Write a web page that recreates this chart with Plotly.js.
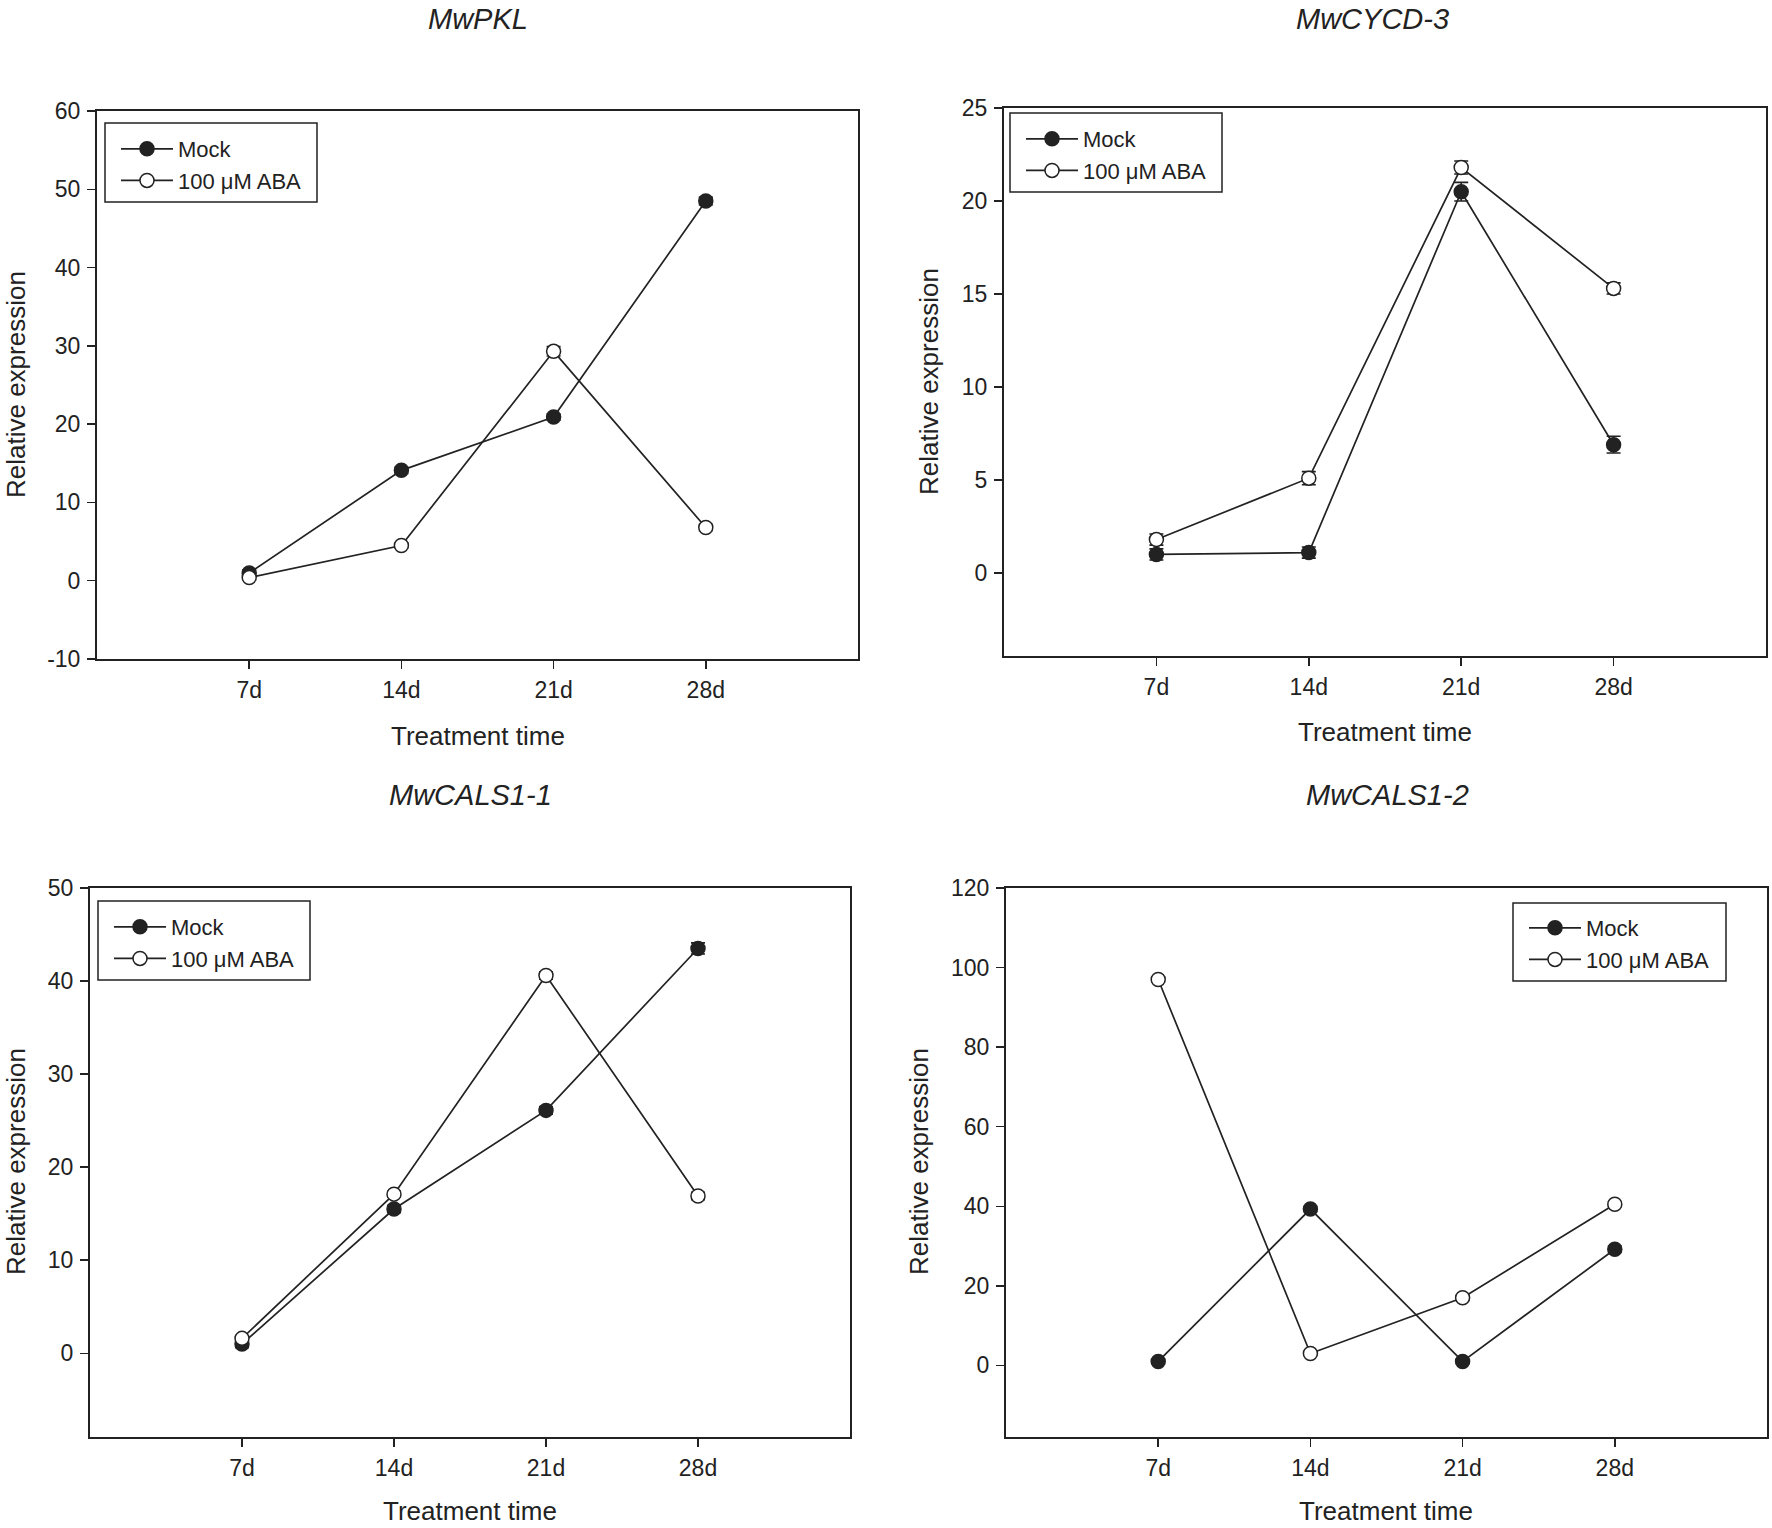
<!DOCTYPE html>
<html>
<head>
<meta charset="utf-8">
<script src="https://cdn.plot.ly/plotly-3.0.1.min.js"></script>
<style>
  html, body { margin: 0; padding: 0; background: #fff; }
  #chart { width: 1772px; height: 1528px; }
</style>
</head>
<body>
<div id="chart"></div>
<script>
// values
const days = ['7d', '14d', '21d', '28d'];
const seriesNames = ['Mock', '100 μM ABA'];
const genes = ['MwPKL', 'MwCYCD-3', 'MwCALS1-1', 'MwCALS1-2'];

const pklMock = [1.0, 14.1, 20.9, 48.5];
const pklMockErr = [0.4, 0.4, 0.4, 0.5];
const pklAba = [0.4, 4.5, 29.3, 6.8];
const pklAbaErr = [0.3, 0.3, 0.6, 0.4];

const cycdMock = [1.0, 1.1, 20.5, 6.9];
const cycdMockErr = [0.3, 0.3, 0.5, 0.45];
const cycdAba = [1.8, 5.1, 21.8, 15.3];
const cycdAbaErr = [0.3, 0.35, 0.35, 0.3];

const cals1Mock = [1.0, 15.5, 26.1, 43.5];
const cals1MockErr = [0.4, 0.4, 0.4, 0.6];
const cals1Aba = [1.6, 17.1, 40.6, 16.9];
const cals1AbaErr = [0.3, 0.3, 0.4, 0.4];

const cals2Mock = [1.0, 39.3, 1.0, 29.2];
const cals2MockErr = [0.6, 0.6, 0.6, 0.8];
const cals2Aba = [97.0, 3.0, 17.0, 40.5];
const cals2AbaErr = [0.6, 0.5, 0.6, 0.6];

// y tick values per panel (labels printed with a plain hyphen like the original)
const pklTicks = [-10, 0, 10, 20, 30, 40, 50, 60];
const cycdTicks = [0, 5, 10, 15, 20, 25];
const cals1Ticks = [0, 10, 20, 30, 40, 50];
const cals2Ticks = [0, 20, 40, 60, 80, 100, 120];

const W = 1772, H = 1528;
const FONT = 'Liberation Sans, Arial, sans-serif';
const INK = '#222';

// pixel -> paper helpers
function px(x) { return x / W; }
function py(y) { return 1 - y / H; }

// panel boxes in pixels (left, right, top, bottom) and styling
var panels = [
    { mock: pklMock, mockErr: pklMockErr, aba: pklAba, abaErr: pklAbaErr, ticks: pklTicks,
      box: [97, 858, 111, 659], yrange: [-10, 60],
      title: [478, 19], xtitle: [478, 736], ytitle: [16, 385],
      legend: [105, 317, 123, 202], legendAt: [116, 128] },
    { mock: cycdMock, mockErr: cycdMockErr, aba: cycdAba, abaErr: cycdAbaErr, ticks: cycdTicks,
      box: [1004, 1766, 108, 656], yrange: [-4.46, 25],
      title: [1372, 19], xtitle: [1385, 732], ytitle: [929, 382],
      legend: [1010, 1222, 113, 192], legendAt: [1021, 118] },
    { mock: cals1Mock, mockErr: cals1MockErr, aba: cals1Aba, abaErr: cals1AbaErr, ticks: cals1Ticks,
      box: [90, 850, 888, 1437], yrange: [-9, 50],
      title: [470, 795], xtitle: [470, 1511], ytitle: [16, 1162],
      legend: [98, 310, 901, 980], legendAt: [109, 906] },
    { mock: cals2Mock, mockErr: cals2MockErr, aba: cals2Aba, abaErr: cals2AbaErr, ticks: cals2Ticks,
      box: [1006, 1767, 888, 1437], yrange: [-18, 120],
      title: [1387, 795], xtitle: [1386, 1511], ytitle: [919, 1162],
      legend: [1513, 1726, 903, 981], legendAt: [1524, 907] }
];

var data = [];
var layout = {
    width: W, height: H,
    margin: { l: 0, r: 0, t: 0, b: 0 },
    paper_bgcolor: '#fff',
    plot_bgcolor: '#fff',
    font: { family: FONT, color: INK, size: 22 },
    showlegend: true,
    annotations: [],
    shapes: []
};

panels.forEach(function (p, i) {
    var n = i === 0 ? '' : String(i + 1);
    var xa = 'x' + n, ya = 'y' + n;
    var lg = 'legend' + n;

    function trace(name, y, err, fill) {
        return {
            x: days, y: y, name: name,
            xaxis: xa, yaxis: ya, legend: lg,
            type: 'scatter', mode: 'lines+markers',
            line: { color: INK, width: 1.7 },
            marker: { symbol: 'circle', size: 14, color: fill, line: { color: INK, width: 1.5 } },
            error_y: { type: 'data', array: err, visible: true, color: INK, thickness: 1.6, width: 7 },
            cliponaxis: false
        };
    }
    data.push(trace(seriesNames[0], p.mock, p.mockErr, INK));
    data.push(trace(seriesNames[1], p.aba, p.abaErr, '#fff'));

    layout['xaxis' + n] = {
        domain: [px(p.box[0]), px(p.box[1])],
        anchor: ya,
        type: 'category',
        range: [-1, 4],
        showgrid: false, zeroline: false,
        showline: true, mirror: true, linecolor: INK, linewidth: 2,
        ticks: 'outside', ticklen: 8, tickwidth: 1.5, tickcolor: INK,
        ticklabelstandoff: 1,
        tickfont: { family: FONT, size: 23, color: INK },
        fixedrange: true
    };
    layout['yaxis' + n] = {
        domain: [py(p.box[3]), py(p.box[2])],
        anchor: xa,
        range: p.yrange,
        tickmode: 'array',
        tickvals: p.ticks,
        ticktext: p.ticks.map(function (v) { return String(v); }),
        showgrid: false, zeroline: false,
        showline: true, mirror: true, linecolor: INK, linewidth: 2,
        ticks: 'outside', ticklen: 8, tickwidth: 1.5, tickcolor: INK,
        ticklabelstandoff: 2,
        tickfont: { family: FONT, size: 23, color: INK },
        fixedrange: true
    };

    layout[lg] = {
        x: px(p.legendAt[0]), y: py(p.legendAt[1]),
        xanchor: 'left', yanchor: 'top',
        xref: 'paper', yref: 'paper',
        bgcolor: 'rgba(0,0,0,0)', borderwidth: 0,
        font: { family: FONT, size: 22, color: INK },
        itemwidth: 52,
        tracegroupgap: 0
    };

    // legend frame
    layout.shapes.push({
        type: 'rect', xref: 'paper', yref: 'paper',
        x0: px(p.legend[0]), x1: px(p.legend[1]),
        y0: py(p.legend[3]), y1: py(p.legend[2]),
        line: { color: INK, width: 1.5 }, fillcolor: 'rgba(0,0,0,0)'
    });

    layout.annotations.push({
        text: genes[i], xref: 'paper', yref: 'paper',
        x: px(p.title[0]), y: py(p.title[1]),
        xanchor: 'center', yanchor: 'middle', showarrow: false,
        font: { family: FONT, size: 29, color: INK, style: 'italic' }
    });
    layout.annotations.push({
        text: 'Treatment time', xref: 'paper', yref: 'paper',
        x: px(p.xtitle[0]), y: py(p.xtitle[1]),
        xanchor: 'center', yanchor: 'middle', showarrow: false,
        font: { family: FONT, size: 26, color: INK }
    });
    layout.annotations.push({
        text: 'Relative expression', xref: 'paper', yref: 'paper',
        x: px(p.ytitle[0]), y: py(p.ytitle[1]),
        xanchor: 'center', yanchor: 'middle', showarrow: false, textangle: -90,
        font: { family: FONT, size: 26, color: INK }
    });
});

Plotly.newPlot('chart', data, layout, { displayModeBar: false, staticPlot: true });
</script>
</body>
</html>
